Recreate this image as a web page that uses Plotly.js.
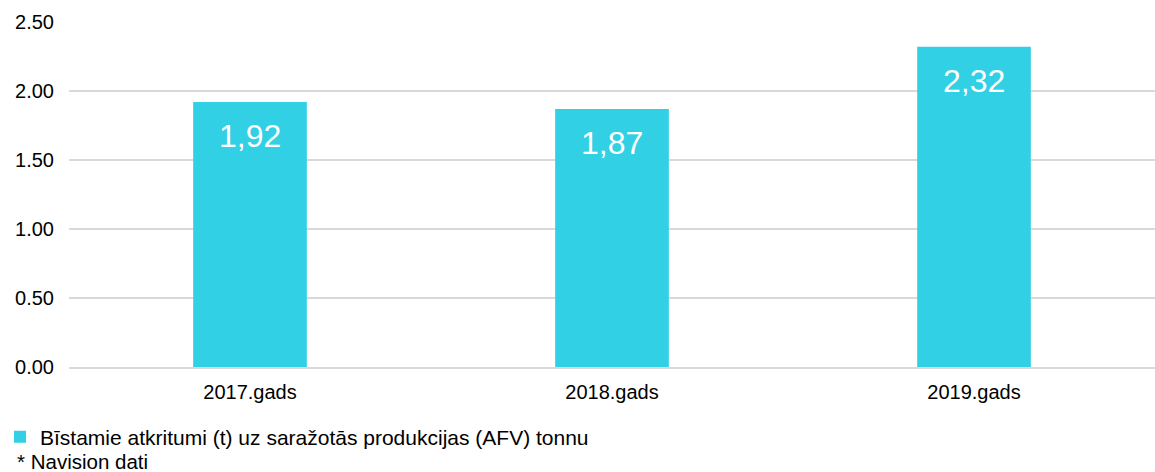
<!DOCTYPE html>
<html>
<head>
<meta charset="utf-8">
<script src="https://cdn.plot.ly/plotly-3.0.1.min.js"></script>
<style>
  html, body { margin: 0; padding: 0; background: #fff; }
  #chart { width: 1155px; height: 472px; }
</style>
</head>
<body>
<div id="chart"></div>
<script>
// Data
const years = ["2017.gads", "2018.gads", "2019.gads"];
const values = [1.92, 1.87, 2.32];
const seriesName = "Bīstamie atkritumi (t) uz saražotās produkcijas (AFV) tonnu";
const footnote = "* Navision dati";

const barColor = "#31d0e5";

const trace = {
  type: "bar",
  x: years,
  y: values,
  name: seriesName,
  marker: { color: barColor },
  width: 0.314,
  showlegend: true,
  hoverinfo: "none"
};

// Value labels inside the top of each bar, comma as decimal separator
const labels = years.map((yr, i) => ({
  x: yr,
  y: values[i],
  text: values[i].toFixed(2).replace(".", ","),
  showarrow: false,
  yanchor: "top",
  yshift: -14,
  font: { size: 32, color: "#ffffff" }
}));

const layout = {
  width: 1155,
  height: 472,
  margin: { l: 69, r: 0, t: 22, b: 105 },
  paper_bgcolor: "#ffffff",
  plot_bgcolor: "#ffffff",
  font: { family: "Liberation Sans, Arial, sans-serif", size: 20, color: "#000000" },
  xaxis: {
    type: "category",
    showgrid: false,
    showline: true,
    linecolor: "#d9d9d9",
    linewidth: 2,
    ticks: "",
    ticklabelstandoff: 6
  },
  yaxis: {
    range: [0, 2.5],
    dtick: 0.5,
    tickformat: ".2f",
    showgrid: true,
    gridcolor: "#d9d9d9",
    gridwidth: 2,
    zeroline: false,
    ticks: "",
    ticklabelstandoff: 14
  },
  showlegend: true,
  legend: {
    orientation: "h",
    xref: "container",
    yref: "container",
    x: 0,
    y: 0.074,
    xanchor: "left",
    yanchor: "middle",
    itemwidth: 30,
    font: { size: 21 }
  },
  annotations: labels.concat([{
    xref: "paper",
    yref: "paper",
    x: -0.05,
    y: -0.275,
    xanchor: "left",
    yanchor: "middle",
    text: footnote,
    showarrow: false,
    font: { size: 20.5 }
  }])
};

Plotly.newPlot("chart", [trace], layout, { staticPlot: true });
</script>
</body>
</html>
